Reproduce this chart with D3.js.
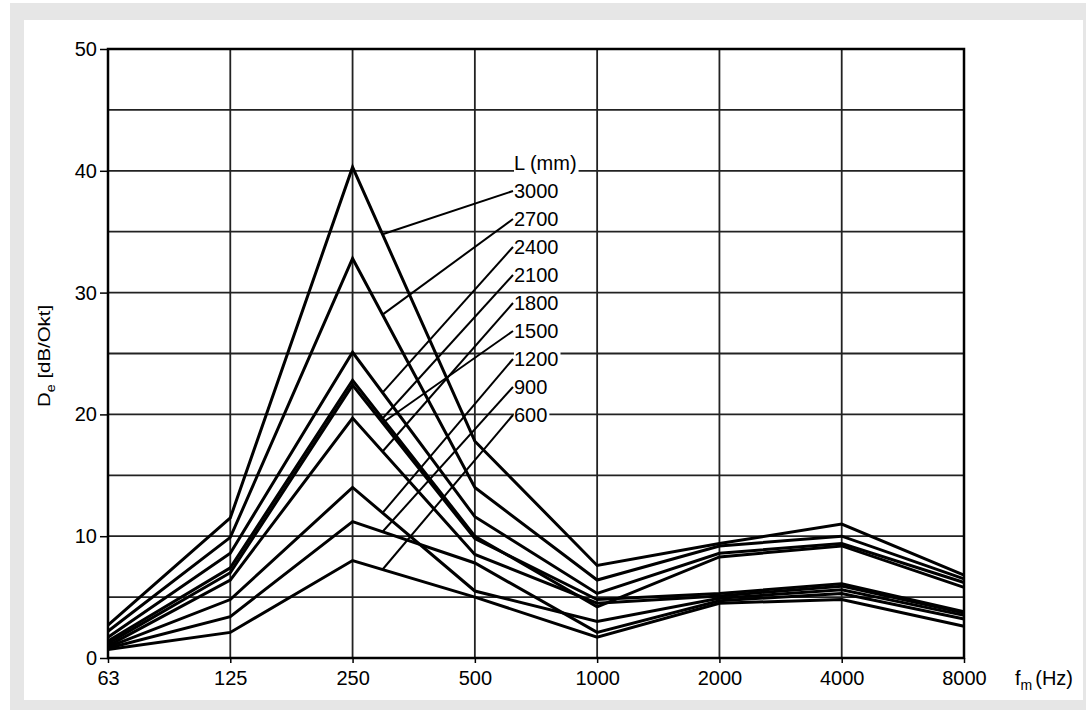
<!DOCTYPE html>
<html>
<head>
<meta charset="utf-8">
<script src="https://cdn.jsdelivr.net/npm/d3@7"></script>
<style>
  body { margin: 0; background: #fff; }
  svg { display: block; }
  text { font-family: "Liberation Sans", Arial, sans-serif; fill: #000; }
</style>
</head>
<body>
<div id="container"></div>
<script>
// octave band centre frequencies (Hz)
const freqs = ["63", "125", "250", "500", "1000", "2000", "4000", "8000"];
const yTicks = [0, 10, 20, 30, 40, 50];
const yGrid = [5, 10, 15, 20, 25, 30, 35, 40, 45];

// attenuation D_e per length L (mm)
const lengths = ["3000", "2700", "2400", "2100", "1800", "1500", "1200", "900", "600"];
const d3000 = [2.7, 11.5, 40.3, 17.8, 7.6, 9.4, 11.0, 6.8];
const d2700 = [2.2, 9.9, 32.8, 14.0, 6.4, 9.2, 10.0, 6.5];
const d2400 = [1.7, 8.6, 25.1, 11.6, 5.3, 8.6, 9.4, 6.2];
const d2100 = [1.4, 7.4, 22.8, 10.0, 4.2, 8.3, 9.2, 5.8];
const d1800 = [1.0, 6.4, 19.7, 8.5, 4.5, 5.1, 5.9, 3.7];
const d1500 = [1.2, 7.0, 22.4, 9.8, 4.8, 5.3, 6.1, 3.8];
const d1200 = [0.9, 4.8, 14.0, 5.5, 3.0, 4.9, 5.6, 3.5];
const d900  = [0.8, 3.4, 11.2, 7.8, 2.1, 4.7, 5.3, 3.2];
const d600  = [0.7, 2.1, 8.0, 5.0, 1.7, 4.5, 4.8, 2.6];
const series = [d3000, d2700, d2400, d2100, d1800, d1500, d1200, d900, d600];

const svg = d3.select("#container")
  .append("svg")
    .attr("width", 1086)
    .attr("height", 710);

// grey frame + white panel
svg.append("rect")
    .attr("x", 10).attr("y", 3)
    .attr("width", 1076).attr("height", 707)
    .attr("fill", "#e6e6e6");
svg.append("rect")
    .attr("x", 24).attr("y", 20)
    .attr("width", 1059).attr("height", 680)
    .attr("fill", "#fff");

const x = d3.scalePoint().domain(freqs).range([108, 964]);
const y = d3.scaleLinear().domain([0, 50]).range([658, 49]);

// grid
svg.append("g").selectAll("line")
  .data(yGrid)
  .join("line")
    .attr("x1", x.range()[0]).attr("x2", x.range()[1])
    .attr("y1", d => y(d)).attr("y2", d => y(d))
    .attr("stroke", "#222")
    .attr("stroke-width", 1.8);
svg.append("g").selectAll("line")
  .data(freqs.slice(1, -1))
  .join("line")
    .attr("x1", d => x(d)).attr("x2", d => x(d))
    .attr("y1", y(0)).attr("y2", y(50))
    .attr("stroke", "#222")
    .attr("stroke-width", 1.8);

// data lines
const line = d3.line()
  .x((d, i) => x(freqs[i]))
  .y(d => y(d));
svg.append("g").selectAll("path")
  .data(series)
  .join("path")
    .attr("d", line)
    .attr("fill", "none")
    .attr("stroke", "#000")
    .attr("stroke-width", 3)
    .attr("stroke-linejoin", "miter");

// frame
svg.append("rect")
    .attr("x", x.range()[0]).attr("y", y(50))
    .attr("width", x.range()[1] - x.range()[0])
    .attr("height", y(0) - y(50))
    .attr("fill", "none")
    .attr("stroke", "#000")
    .attr("stroke-width", 2.5);

// axes
const yAxis = svg.append("g")
    .attr("transform", `translate(${x.range()[0]},0)`)
    .call(d3.axisLeft(y).tickValues(yTicks).tickSize(8).tickPadding(3));
const xAxis = svg.append("g")
    .attr("transform", `translate(0,${y(0)})`)
    .call(d3.axisBottom(x).tickSize(5).tickPadding(8));
[yAxis, xAxis].forEach(g => {
  g.select(".domain").remove();
  g.selectAll(".tick line").attr("stroke", "#000").attr("stroke-width", 1.5);
  g.selectAll("text")
    .attr("font-size", 20)
    .attr("font-family", "Liberation Sans, Arial, sans-serif")
    .attr("fill", "#000");
});

// axis titles
const yTitle = svg.append("text")
    .attr("transform", "translate(50,407) rotate(-90) scale(1.2,1)")
    .attr("font-size", 17);
yTitle.append("tspan").text("D");
yTitle.append("tspan").text("e").attr("font-size", 12).attr("dy", 5);
yTitle.append("tspan").text(" [dB/Okt]").attr("dy", -5);

const xTitle = svg.append("text")
    .attr("x", 1015).attr("y", 685)
    .attr("font-size", 20);
xTitle.append("tspan").text("f");
xTitle.append("tspan").text("m").attr("font-size", 14).attr("dy", 5);
xTitle.append("tspan").text("(Hz)").attr("dx", 3).attr("dy", -5);

// legend labels with leader lines
const labelX = 514;
const labelY0 = 198;
const labelStep = 28;
const t = 0.245; // position of leader end along the 250-500 segment
const lx = x("250") + t * (x("500") - x("250"));

svg.append("g").selectAll("line")
  .data(series)
  .join("line")
    .attr("x1", labelX - 1)
    .attr("y1", (d, i) => labelY0 + i * labelStep - 7)
    .attr("x2", lx)
    .attr("y2", d => y(d[2] + t * (d[3] - d[2])))
    .attr("stroke", "#000")
    .attr("stroke-width", 2);

const labels = svg.append("g");
const heads = ["L (mm)"].concat(lengths);
heads.forEach((s, i) => {
  const ty = labelY0 + (i - 1) * labelStep;
  const txt = labels.append("text")
      .attr("x", labelX).attr("y", ty)
      .attr("font-size", 20)
      .text(s);
  const bb = txt.node().getBBox();
  labels.insert("rect", "text")
      .attr("x", bb.x).attr("y", bb.y + 2)
      .attr("width", bb.width + 2).attr("height", bb.height - 4)
      .attr("fill", "#fff");
});
</script>
</body>
</html>
